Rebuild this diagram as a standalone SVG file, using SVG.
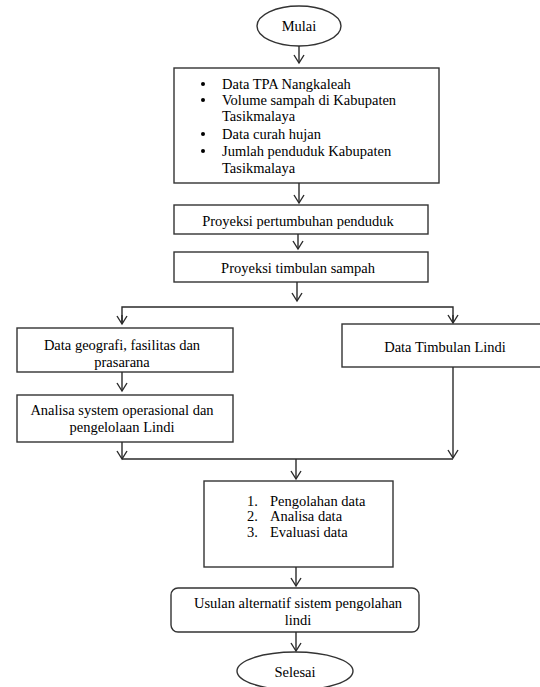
<svg xmlns="http://www.w3.org/2000/svg" width="540" height="687" viewBox="0 0 540 687">
<defs>
<style>
.box{fill:#fff;stroke:#333;stroke-width:1.4}
.t{font-family:"Liberation Serif","Times New Roman",serif;font-size:14.5px;fill:#000}
.c{text-anchor:middle}
.ln{fill:none;stroke:#2a2a2a;stroke-width:1.4}
</style>
<marker id="arr" viewBox="-10 -6 12 12" refX="0" refY="0" markerWidth="12" markerHeight="12" markerUnits="userSpaceOnUse" orient="auto">
<path d="M-8,-5 L0,0 L-8,5" fill="none" stroke="#2a2a2a" stroke-width="1.4"/>
</marker>
</defs>
<rect width="540" height="687" fill="#fff"/>

<g id="mulai">
<ellipse class="box" cx="299" cy="26" rx="42" ry="20"/>
<text class="t c" x="299" y="31">Mulai</text>
</g>

<g id="data-input">
<rect class="box" x="174" y="68" width="265" height="115"/>
<circle cx="203" cy="84" r="2" fill="#000"/>
<circle cx="203" cy="100" r="2" fill="#000"/>
<circle cx="203" cy="134" r="2" fill="#000"/>
<circle cx="203" cy="151" r="2" fill="#000"/>
<text class="t" x="222" y="89">Data TPA Nangkaleah</text>
<text class="t" x="222" y="105">Volume sampah di Kabupaten</text>
<text class="t" x="222" y="121">Tasikmalaya</text>
<text class="t" x="222" y="139">Data curah hujan</text>
<text class="t" x="222" y="156">Jumlah penduduk Kabupaten</text>
<text class="t" x="222" y="173">Tasikmalaya</text>
</g>

<g id="proyeksi-penduduk">
<rect class="box" x="174" y="205" width="254" height="29"/>
<text class="t c" x="298" y="226">Proyeksi pertumbuhan penduduk</text>
</g>

<g id="proyeksi-sampah">
<rect class="box" x="174" y="252" width="254" height="30"/>
<text class="t c" x="298" y="273">Proyeksi timbulan sampah</text>
</g>

<g id="data-geografi">
<rect class="box" x="17" y="328" width="216" height="44"/>
<text class="t c" x="122" y="350">Data geografi, fasilitas dan</text>
<text class="t c" x="122" y="367">prasarana</text>
</g>

<g id="analisa-sistem">
<rect class="box" x="17" y="395" width="216" height="47"/>
<text class="t c" x="122" y="415">Analisa system operasional dan</text>
<text class="t c" x="122" y="432">pengelolaan Lindi</text>
</g>

<g id="data-timbulan-lindi">
<rect class="box" x="342" y="324" width="205" height="43"/>
<text class="t c" x="445" y="352">Data Timbulan Lindi</text>
</g>

<g id="pengolahan">
<rect class="box" x="204" y="481" width="189" height="86"/>
<text class="t" x="247" y="506">1.</text>
<text class="t" x="247" y="521">2.</text>
<text class="t" x="247" y="537">3.</text>
<text class="t" x="270" y="506">Pengolahan data</text>
<text class="t" x="270" y="521">Analisa data</text>
<text class="t" x="270" y="537">Evaluasi data</text>
</g>

<g id="usulan">
<rect class="box" x="171" y="588" width="248" height="44" rx="7" ry="7"/>
<text class="t c" x="298" y="608">Usulan alternatif sistem pengolahan</text>
<text class="t c" x="298" y="625">lindi</text>
</g>

<g id="selesai">
<ellipse class="box" cx="295" cy="671" rx="58" ry="19"/>
<text class="t c" x="295" y="677">Selesai</text>
</g>

<g id="connectors">
<line class="ln" x1="299" y1="46" x2="299" y2="63" marker-end="url(#arr)"/>
<line class="ln" x1="299" y1="183" x2="299" y2="203" marker-end="url(#arr)"/>
<line class="ln" x1="298" y1="234" x2="298" y2="249" marker-end="url(#arr)"/>
<line class="ln" x1="297" y1="282" x2="297" y2="301" marker-end="url(#arr)"/>
<polyline class="ln" points="122,323 122,307 453,307 453,322"/>
<line class="ln" x1="122" y1="315" x2="122" y2="324" marker-end="url(#arr)"/>
<line class="ln" x1="453" y1="315" x2="453" y2="323" marker-end="url(#arr)"/>
<line class="ln" x1="122" y1="372" x2="122" y2="391" marker-end="url(#arr)"/>
<line class="ln" x1="122" y1="442" x2="122" y2="459" marker-end="url(#arr)"/>
<line class="ln" x1="453" y1="367" x2="453" y2="458" marker-end="url(#arr)"/>
<line class="ln" x1="122" y1="459" x2="453" y2="459"/>
<line class="ln" x1="296" y1="459" x2="296" y2="479" marker-end="url(#arr)"/>
<line class="ln" x1="296" y1="567" x2="296" y2="586" marker-end="url(#arr)"/>
<line class="ln" x1="296" y1="632" x2="296" y2="651" marker-end="url(#arr)"/>
</g>
</svg>
